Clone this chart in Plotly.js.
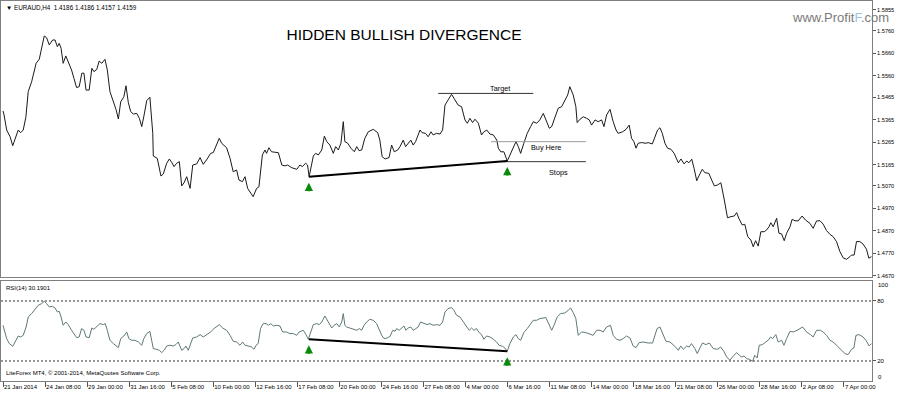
<!DOCTYPE html>
<html>
<head>
<meta charset="utf-8">
<script src="https://cdn.plot.ly/plotly-3.0.1.min.js"></script>
<style>html,body{margin:0;padding:0;background:#fff;}#chart{width:900px;height:393px;}</style>
</head>
<body>
<div id="chart"></div>
<script>
// ---- data (bar index on H4 chart) ----
const priceBar = [0,0.4,1.4,2.7,3.7,4.6,5.8,6.7,7.7,8.7,9.6,10.9,11.8,12.6,13.8,14.7,15.7,16.6,17.6,18.9,19.8,20.7,21.4,22.1,22.9,23.9,24.9,26.1,27.0,28.0,29.0,30.0,30.8,31.6,32.8,33.8,34.6,35.7,36.6,37.6,38.8,39.7,40.7,42.0,43.0,43.9,44.8,46.0,46.8,47.7,48.6,49.6,50.9,51.9,52.8,53.7,54.7,55.9,57.0,57.2,58.7,60.1,61.0,62.3,63.3,64.2,65.1,66.1,67.1,68.0,68.9,69.9,71.2,72.2,73.7,75.0,76.2,77.7,79.0,80.0,81.1,82.3,83.2,85.1,86.4,87.6,88.9,89.8,91.1,92.1,93.1,94.4,95.2,96.5,97.4,98.7,99.7,100.3,101.2,102.2,104.8,106.1,107.3,108.3,109.9,111.8,113.0,113.9,115.2,115.9,116.5,118.1,119.0,120.0,121.3,122.3,123.2,124.4,125.7,126.6,127.6,128.6,129.5,130.1,131.2,132.4,133.7,134.6,135.5,136.5,137.7,139.0,140.9,142.6,143.4,144.3,145.4,146.9,147.9,148.9,150.2,151.1,152.3,153.2,154.2,155.2,156.1,157.0,158.7,159.5,160.8,161.8,162.9,163.7,165.0,166.3,167.3,168.2,169.4,170.7,172.0,173.2,174.5,175.8,176.7,177.7,178.7,179.6,180.9,182.1,183.0,184.1,185.3,186.6,187.9,188.5,189.4,190.6,191.9,192.9,193.9,195.2,196.1,197.0,198.2,199.5,200.8,201.8,203.1,204.3,205.6,206.9,207.9,208.8,210.0,211.3,212.6,213.8,214.9,215.7,217.0,218.0,218.5,219.6,220.8,222.1,223.1,224.0,225.3,226.5,227.8,228.7,229.7,231.0,232.2,233.3,234.1,235.8,237.1,238.3,239.2,240.1,240.9,241.7,243.0,244.7,245.5,247.1,248.1,249.1,250.0,250.9,251.9,252.9,254.2,255.4,257.0,258.0,259.2,260.2,261.0,262.1,263.0,264.0,264.8,266.1,267.1,268.6,269.7,270.7,271.9,273.2,274.5,275.7,277.0,278.3,279.2,280.0,281.3,282.3,283.4,284.6,285.5,286.4,287.4,288.4,289.7,290.6,291.5,292.2,293.1,294.4,295.3,296.3,297.3,298.2,299.5,300.3,301.4,302.6,304.1,305.4,307.1,308.3,309.6,310.9,312.1,313.4,314.7,315.9,317.2,318.5,319.7,321.0,322.3,322.9,323.9,324.8,326.1,327.3,328.6,329.5,330.5];
const priceVal = [1.5404,1.5386,1.5319,1.5289,1.5249,1.5282,1.5319,1.5307,1.5319,1.5376,1.5490,1.5534,1.5579,1.5616,1.5634,1.5690,1.5738,1.5730,1.5698,1.5720,1.5720,1.5690,1.5705,1.5683,1.5616,1.5649,1.5623,1.5586,1.5549,1.5508,1.5512,1.5572,1.5572,1.5497,1.5497,1.5594,1.5579,1.5589,1.5626,1.5616,1.5634,1.5586,1.5490,1.5450,1.5411,1.5368,1.5445,1.5467,1.5516,1.5441,1.5401,1.5390,1.5393,1.5371,1.5334,1.5386,1.5450,1.5465,1.5304,1.5203,1.5193,1.5114,1.5123,1.5171,1.5190,1.5175,1.5156,1.5171,1.5178,1.5070,1.5084,1.5111,1.5059,1.5163,1.5168,1.5196,1.5166,1.5190,1.5215,1.5218,1.5245,1.5282,1.5260,1.5240,1.5193,1.5133,1.5141,1.5096,1.5089,1.5111,1.5059,1.5037,1.5022,1.5059,1.5066,1.5208,1.5230,1.5215,1.5240,1.5222,1.5218,1.5163,1.5159,1.5163,1.5151,1.5144,1.5163,1.5156,1.5171,1.5163,1.5111,1.5203,1.5215,1.5208,1.5230,1.5292,1.5267,1.5252,1.5215,1.5245,1.5230,1.5260,1.5356,1.5267,1.5260,1.5238,1.5222,1.5245,1.5227,1.5230,1.5282,1.5311,1.5322,1.5307,1.5274,1.5200,1.5190,1.5196,1.5252,1.5222,1.5230,1.5245,1.5274,1.5245,1.5260,1.5274,1.5252,1.5267,1.5319,1.5307,1.5304,1.5289,1.5311,1.5297,1.5304,1.5301,1.5319,1.5430,1.5453,1.5478,1.5453,1.5430,1.5423,1.5364,1.5349,1.5371,1.5352,1.5367,1.5349,1.5297,1.5311,1.5319,1.5301,1.5297,1.5274,1.5238,1.5222,1.5222,1.5181,1.5208,1.5238,1.5267,1.5245,1.5215,1.5260,1.5304,1.5334,1.5356,1.5349,1.5364,1.5393,1.5356,1.5327,1.5334,1.5378,1.5416,1.5423,1.5453,1.5475,1.5512,1.5475,1.5423,1.5352,1.5367,1.5378,1.5371,1.5364,1.5341,1.5364,1.5356,1.5364,1.5334,1.5386,1.5411,1.5356,1.5319,1.5304,1.5311,1.5322,1.5341,1.5282,1.5267,1.5238,1.5260,1.5263,1.5260,1.5263,1.5257,1.5289,1.5319,1.5329,1.5304,1.5260,1.5238,1.5233,1.5215,1.5173,1.5190,1.5168,1.5181,1.5173,1.5189,1.5148,1.5093,1.5114,1.5144,1.5129,1.5126,1.5096,1.5070,1.5074,1.5084,1.5007,1.4928,1.4933,1.4936,1.4951,1.4926,1.4896,1.4899,1.4844,1.4829,1.4799,1.4826,1.4802,1.4866,1.4866,1.4874,1.4888,1.4906,1.4888,1.4926,1.4859,1.4856,1.4826,1.4859,1.4888,1.4921,1.4915,1.4914,1.4936,1.4918,1.4903,1.4881,1.4914,1.4915,1.4900,1.4871,1.4854,1.4844,1.4822,1.4777,1.4750,1.4743,1.4755,1.4762,1.4762,1.4822,1.4822,1.4811,1.4788,1.4748,1.4755];

const rsiBar = [0,0.4,1.4,2.4,3.7,4.6,5.8,6.7,7.7,8.8,9.6,10.9,12.2,13.4,14.7,15.7,16.6,17.6,18.9,19.8,20.7,21.4,22.1,22.9,23.9,24.8,26.1,27.0,28.0,29.0,29.9,30.8,31.6,32.8,33.8,34.6,35.7,36.9,38.2,38.9,39.7,40.7,42.0,43.0,43.9,44.8,46.0,47.1,47.9,49.0,50.2,51.5,52.8,53.6,54.7,55.9,56.6,57.2,58.5,59.5,60.4,61.3,62.3,63.5,64.8,65.8,66.7,68.0,68.9,69.6,70.5,71.2,72.2,73.7,75.0,76.2,77.5,79.0,80.3,81.3,82.3,83.6,85.1,86.4,87.6,88.9,90.2,91.2,92.1,93.3,94.6,95.5,96.3,97.1,98.0,99.0,100.1,101.0,101.9,102.9,104.1,105.4,106.4,107.9,109.2,110.5,111.8,112.7,114.3,115.3,116.2,118.1,119.4,120.4,121.3,122.5,123.4,124.4,125.1,126.0,127.0,128.0,128.9,129.5,130.1,130.8,132.0,133.3,134.6,135.6,136.5,137.4,138.4,139.6,140.9,142.2,143.2,144.1,145.0,146.2,147.3,148.3,149.2,149.8,150.8,151.7,152.6,153.3,154.2,155.2,156.1,157.1,158.0,158.9,160.2,161.4,162.5,163.7,165.0,166.3,167.3,168.2,169.4,170.7,171.6,172.6,173.9,175.1,176.4,177.4,178.3,179.2,180.2,181.2,182.1,183.0,184.0,185.3,186.6,187.8,188.8,190.1,191.0,191.9,192.9,194.2,195.2,196.1,197.0,198.2,199.5,200.8,201.8,203.1,204.3,206.6,207.9,208.8,209.7,210.9,212.2,213.8,215.1,216.0,217.0,218.0,218.9,220.2,221.8,223.4,224.6,225.9,227.2,228.4,229.7,231.2,232.2,233.5,234.8,236.0,237.3,238.6,239.8,240.9,242.1,243.6,245.5,247.2,248.1,248.9,250.0,251.0,252.3,253.8,255.3,257.0,257.9,258.9,260.2,261.1,262.0,263.3,264.2,265.2,266.2,267.5,268.8,270.3,271.8,273.1,274.3,275.4,276.6,277.6,279.2,280.2,281.1,282.0,283.0,284.0,285.3,286.1,287.0,287.8,289.0,290.3,291.2,292.1,292.9,294.1,295.0,296.3,297.2,298.2,299.5,300.7,302.2,304.3,305.8,307.3,308.3,309.6,311.1,312.1,313.4,314.7,315.9,317.5,319.1,320.4,321.6,322.9,323.8,324.6,325.8,327.3,328.4,329.6,330.5];
const rsiVal = [55.7,52.4,42.4,37.4,34.7,39,45,44,45.7,54,64,67.4,72.4,75.7,77.4,79.7,77.4,74,74.7,73,69,69.7,64,55.7,59,56.4,50.7,47.4,43.4,44,52.4,50.7,44,43.4,53,51.7,54,57.4,56.4,57.4,50.7,40.7,37.4,35.7,33.4,42.4,45,49,42.4,40.7,40.7,39,35.7,42.4,47.4,49.7,39,32.4,31.7,30.7,28.4,30.7,35,35.7,35,36.4,39,30.7,32.4,35,30.7,35,43,44,46.4,44,46.4,49,52.4,54,56.4,53,50.7,45.7,39.7,39,35.7,39,35.7,35,34,31.7,35.7,37.4,52.4,57.4,57.4,55.7,57.4,55,55.7,55,49,49,47.4,47.4,45.7,49,50.7,46.4,41.7,56.4,57.4,56.4,59,65,60.7,57.4,53,55.7,57.4,54,59,67.4,55.7,54,53,51.7,50.7,52.4,50.7,55.7,59,61.7,60.7,57.4,51.7,45.7,42.4,43,44.7,50.7,49.7,52.4,50.7,52.4,55,50.7,53,54,50.7,52.4,54,59,57.4,56.4,57.4,55.7,56.4,55.7,59,69,72.4,73.4,70.7,65.7,64,59,54,50.7,53,50.7,52.4,48.4,46.4,41.7,45,44,41.7,39,35.7,34.7,33,29.7,37.4,44,46.4,42.4,40.7,48.4,52.4,57.4,60.7,60.7,62.4,63.4,55.7,50.7,55.7,64,67.4,68,70.7,73,68.4,62.4,45.7,49,48.4,46.4,45.7,50.7,50.7,49,54,55.7,45.7,41.7,40.7,42.4,45,43,35,33.4,38.4,39,38,38,45.7,52.4,54,47.4,39.7,39,35.7,30.7,35,31.7,35,34,37.4,32.4,27.4,33,38,36.4,38,32.4,31.7,34,29.7,24,20.7,24,28.4,25.7,24,25,22.4,21.7,19.7,25.7,23,35.7,36.4,39,40.7,44,42.4,46.4,39,40.7,35.7,42.4,49.7,49,50.7,54,49,46.4,44,50.7,50.7,49,45.7,40.7,39,35,30.7,27.4,26.4,31.7,33,45.7,46.4,44,40.7,35,37.4];

// divergence pivots (two lows)
const divBar   = [116.4, 191.9];
const divPrice = [1.5111, 1.5181];
const divRsi   = [41.7, 29.7];

// trade levels drawn on the chart
const targetBar = [165.6, 201.8]; const targetPrice = [1.5482, 1.5482];
const buyBar    = [185.7, 221.8]; const buyPrice    = [1.5267, 1.5267];
const stopBar   = [189.7, 221.8]; const stopPrice   = [1.5178, 1.5178];

// axes
const priceTicks = [1.5855,1.5760,1.5660,1.5560,1.5465,1.5365,1.5265,1.5165,1.5070,1.4970,1.4870,1.4770,1.4670];
const priceTickText = ['1.5855','1.5760','1.5660','1.5560','1.5465','1.5365','1.5265','1.5165','1.5070','1.4970','1.4870','1.4770','1.4670'];
const rsiLevels = [20, 80];
const dateTickBars = [0,16,32,48,64,80,96,112,128,144,160,176,192,208,224,240,256,272,288,304,320];
const dateTickText = ['21 Jan 2014','24 Jan 08:00','29 Jan 00:00','31 Jan 16:00','5 Feb 08:00','10 Feb 00:00','12 Feb 16:00','17 Feb 08:00','20 Feb 00:00','24 Feb 16:00','27 Feb 08:00','4 Mar 00:00','6 Mar 16:00','11 Mar 08:00','14 Mar 00:00','18 Mar 16:00','21 Mar 08:00','26 Mar 00:00','28 Mar 16:00','2 Apr 08:00','7 Apr 00:00'];

// ---- drawing ----
const FONT = 'Liberation Sans, Arial, sans-serif';
const frame = '#7f7f7f';

const traces = [
  {x: priceBar, y: priceVal, xaxis:'x', yaxis:'y', mode:'lines', line:{color:'#1a1a1a', width:1}, hoverinfo:'skip'},
  {x: targetBar, y: targetPrice, xaxis:'x', yaxis:'y', mode:'lines', line:{color:'#333', width:1}, hoverinfo:'skip'},
  {x: buyBar, y: buyPrice, xaxis:'x', yaxis:'y', mode:'lines', line:{color:'#9a9a9a', width:1}, hoverinfo:'skip'},
  {x: stopBar, y: stopPrice, xaxis:'x', yaxis:'y', mode:'lines', line:{color:'#333', width:1}, hoverinfo:'skip'},
  {x: divBar, y: divPrice, xaxis:'x', yaxis:'y', mode:'lines', line:{color:'#000', width:2}, hoverinfo:'skip'},
  {x: rsiBar, y: rsiVal, xaxis:'x2', yaxis:'y2', mode:'lines', line:{color:'#5f7878', width:1}, hoverinfo:'skip'},
  {x: divBar, y: divRsi, xaxis:'x2', yaxis:'y2', mode:'lines', line:{color:'#000', width:2}, hoverinfo:'skip'}
];

function arrow(x, y, xref, yref){
  return {x:x, y:y, xref:xref, yref:yref, text:'', showarrow:true, ax:0, ay:10, axref:'pixel', ayref:'pixel',
          arrowhead:2, arrowsize:0.75, arrowwidth:2.2, arrowcolor:'#0a8a0a', standoff:0, yshift:-6};
}

const annotations = [
  {xref:'paper', yref:'paper', x:0.004, y:1.0, yshift:-1, xanchor:'left', yanchor:'top', showarrow:false,
   text:'▼ EURAUD,H4  1.4186 1.4186 1.4157 1.4159', font:{family:FONT, size:6.3, color:'#000'}},
  {xref:'paper', yref:'paper', x:1, xshift:19, y:1, yshift:-16, xanchor:'right', yanchor:'middle', showarrow:false,
   text:'www.Profit<span style="color:#9cc4e0">F</span>.com', font:{family:FONT, size:13, color:'#7a7a7a'}},
  {xref:'x', yref:'y', x:189.0, y:targetPrice[0], yshift:5, xanchor:'center', yanchor:'middle', showarrow:false,
   text:'Target', font:{family:FONT, size:7.3, color:'#000'}},
  {xref:'x', yref:'y', x:200.3, y:buyPrice[0], yshift:-6, xanchor:'left', yanchor:'middle', showarrow:false,
   text:'Buy Here', font:{family:FONT, size:7.3, color:'#000'}},
  {xref:'x', yref:'y', x:207.1, y:stopPrice[0], yshift:-10.5, xanchor:'left', yanchor:'middle', showarrow:false,
   text:'Stops', font:{family:FONT, size:7.3, color:'#000'}},
  {xref:'paper', yref:'y2 domain', x:0.004, y:1, yshift:-2, xanchor:'left', yanchor:'top', showarrow:false,
   text:'RSI(14) 30.1901', font:{family:FONT, size:6, color:'#000'}},
  {xref:'paper', yref:'y2 domain', x:0.004, y:0, yshift:3, xanchor:'left', yanchor:'bottom', showarrow:false,
   text:'LiteForex MT4, © 2001-2014, MetaQuotes Software Corp.', font:{family:FONT, size:6, color:'#000'}},
  {xref:'paper', yref:'y2', x:1, xshift:4, y:100, yshift:-4, xanchor:'left', yanchor:'middle', showarrow:false,
   text:'100', font:{family:FONT, size:6, color:'#000'}},
  {xref:'paper', yref:'y2', x:1, xshift:4, y:0, yshift:4, xanchor:'left', yanchor:'middle', showarrow:false,
   text:'0', font:{family:FONT, size:6, color:'#000'}},
  arrow(divBar[0], divPrice[0], 'x', 'y'),
  arrow(divBar[1], divPrice[1], 'x', 'y'),
  arrow(divBar[0], divRsi[0], 'x2', 'y2'),
  arrow(divBar[1], divRsi[1], 'x2', 'y2')
];

const shapes = rsiLevels.map(v => ({type:'line', xref:'x2 domain', yref:'y2', x0:0, x1:1, y0:v, y1:v,
  line:{color:'#333', width:1, dash:'2px,2px'}}));

const layout = {
  width:900, height:393,
  margin:{l:1, r:28, t:1, b:12, pad:0},
  paper_bgcolor:'#fff', plot_bgcolor:'#fff',
  showlegend:false,
  font:{family:FONT, size:6, color:'#000'},
  title:{text:'HIDDEN BULLISH DIVERGENCE', x:0.4627, xanchor:'center', xref:'paper', y:0.911, yanchor:'middle',
         font:{family:FONT, size:15.5, color:'#000'}},
  xaxis:{domain:[0,1], anchor:'y', range:[-0.76, 330.7], showticklabels:false, ticks:'', showgrid:false, zeroline:false,
         showline:true, mirror:true, linecolor:frame, linewidth:1},
  xaxis2:{domain:[0,1], anchor:'y2', matches:'x', range:[-0.76, 330.7], tickmode:'array', tickvals:dateTickBars, ticktext:dateTickText,
          tickangle:0, ticks:'outside', ticklen:5, tickwidth:1, tickcolor:'#555', ticklabelposition:'outside right',
          tickfont:{family:FONT, size:6, color:'#000'}, showgrid:false, zeroline:false,
          showline:true, mirror:true, linecolor:frame, linewidth:1},
  yaxis:{domain:[0.2737,1], anchor:'x', side:'right', range:[1.46643, 1.58936], tickmode:'array', tickvals:priceTicks, ticktext:priceTickText,
         ticks:'outside', ticklen:3, tickcolor:'#555', tickfont:{family:FONT, size:5.6, color:'#000'}, showgrid:false, zeroline:false,
         showline:true, mirror:true, linecolor:frame, linewidth:1},
  yaxis2:{domain:[0,0.2632], anchor:'x2', side:'right', range:[0,100], tickmode:'array', tickvals:rsiLevels, ticktext:['20','80'],
          ticks:'outside', ticklen:3, tickcolor:'#555', tickfont:{family:FONT, size:6, color:'#000'}, showgrid:false, zeroline:false,
          showline:true, mirror:true, linecolor:frame, linewidth:1},
  annotations: annotations,
  shapes: shapes
};

Plotly.newPlot('chart', traces, layout, {staticPlot:true, displayModeBar:false});
</script>
</body>
</html>
